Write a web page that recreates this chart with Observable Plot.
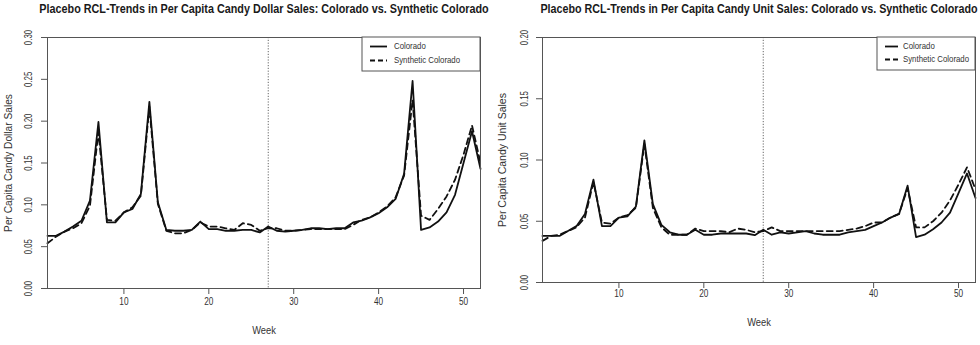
<!DOCTYPE html>
<html><head><meta charset="utf-8">
<script src="https://cdn.jsdelivr.net/npm/d3@7"></script>
<script src="https://cdn.jsdelivr.net/npm/@observablehq/plot@0.6"></script>
<style>
html,body{margin:0;padding:0;background:#fff;}
#wrap{position:relative;width:980px;height:345px;overflow:hidden;background:#fff;}
#wrap svg{position:absolute;top:0;}
</style></head><body><div id="wrap"></div>
<script>
const weeks = [1,2,3,4,5,6,7,8,9,10,11,12,13,14,15,16,17,18,19,20,21,22,23,24,25,26,
  27,28,29,30,31,32,33,34,35,36,37,38,39,40,41,42,43,44,45,46,47,48,49,50,51,52];
const xTicks = [10, 20, 30, 40, 50];
const treatmentWeek = 27;
const seriesNames = ["Colorado", "Synthetic Colorado"];
const xLabel = "Week";

const dollarTitle = "Placebo RCL-Trends in Per Capita Candy Dollar Sales: Colorado vs. Synthetic Colorado";
const dollarYLabel = "Per Capita Candy Dollar Sales";
const dollarYTicks = [0.00, 0.05, 0.10, 0.15, 0.20, 0.25, 0.30];
const dollarColorado = [0.063,0.063,0.068,0.074,0.081,0.105,0.199,0.079,0.079,0.091,0.095,0.113,0.223,0.103,
  0.070,0.069,0.069,0.070,0.080,0.071,0.071,0.069,0.069,0.070,0.070,0.067,0.074,0.069,0.068,0.069,
  0.070,0.072,0.072,0.071,0.072,0.072,0.079,0.081,0.085,0.090,0.097,0.107,0.137,0.248,0.070,0.073,
  0.080,0.091,0.112,0.150,0.188,0.143];
const dollarSynthetic = [0.054,0.062,0.068,0.072,0.078,0.099,0.187,0.082,0.081,0.091,0.097,0.111,0.217,0.101,
  0.069,0.066,0.066,0.070,0.079,0.074,0.074,0.072,0.070,0.078,0.076,0.069,0.072,0.072,0.069,0.069,
  0.070,0.071,0.071,0.071,0.071,0.071,0.076,0.082,0.085,0.091,0.098,0.109,0.135,0.225,0.087,0.082,
  0.095,0.110,0.130,0.160,0.195,0.150];

const unitTitle = "Placebo RCL-Trends in Per Capita Candy Unit Sales: Colorado vs. Synthetic Colorado";
const unitYLabel = "Per Capita Candy Unit Sales";
const unitYTicks = [0.00, 0.05, 0.10, 0.15, 0.20];
const unitColorado = [0.038,0.038,0.038,0.042,0.046,0.056,0.084,0.046,0.046,0.053,0.054,0.062,0.116,0.064,
  0.047,0.041,0.039,0.039,0.043,0.039,0.039,0.040,0.040,0.040,0.040,0.0386,0.043,0.039,0.041,0.040,
  0.041,0.042,0.040,0.039,0.039,0.039,0.041,0.042,0.043,0.046,0.049,0.053,0.056,0.079,0.037,0.039,
  0.0435,0.049,0.057,0.073,0.089,0.069];
const unitSynthetic = [0.034,0.038,0.039,0.042,0.045,0.053,0.082,0.049,0.048,0.053,0.055,0.061,0.113,0.061,
  0.045,0.039,0.039,0.039,0.044,0.042,0.042,0.042,0.041,0.044,0.043,0.041,0.042,0.045,0.042,0.042,
  0.042,0.042,0.042,0.042,0.042,0.042,0.043,0.044,0.046,0.049,0.049,0.053,0.056,0.077,0.045,0.045,
  0.050,0.057,0.067,0.080,0.094,0.076];

const FONT = "'Liberation Sans', Arial, Helvetica, sans-serif";

// compress a text element along its own writing direction, around its anchor point
function squeezeBy(el, s) {
  const x = parseFloat(el.getAttribute("x")) || 0;
  const y = parseFloat(el.getAttribute("y")) || 0;
  const T = el.getAttribute("transform") || "";
  el.setAttribute("x", 0);
  el.setAttribute("y", 0);
  el.setAttribute("transform", `${T} translate(${x},${y}) scale(${s},1)`.trim());
}
function squeezeTo(el, target) {
  const L = el.getComputedTextLength();
  if (L > 0) squeezeBy(el, target / L);
}

function panel(cfg) {
  const rows = [];
  weeks.forEach((w, i) => rows.push({week: w, value: cfg.col[i], series: seriesNames[0]}));
  weeks.forEach((w, i) => rows.push({week: w, value: cfg.syn[i], series: seriesNames[1]}));
  const yTickText = cfg.yticks.map(d => d.toFixed(2));
  const chart = Plot.plot({
    width: 490, height: 345,
    marginLeft: cfg.mL, marginRight: cfg.mR, marginTop: 37, marginBottom: cfg.mB,
    style: {fontFamily: FONT, fontSize: "11px", color: "#333", background: "#fff", overflow: "visible"},
    x: {domain: [1, 52], label: null},
    y: {domain: [0, cfg.ymax], label: null},
    marks: [
      Plot.axisX({ticks: xTicks, tickSize: 6, tickPadding: cfg.xPad, stroke: "#555", fill: "#333", label: null, fontSize: 11}),
      Plot.axisY({ticks: cfg.yticks, tickSize: 6, stroke: "#555", text: null, label: null}),
      Plot.text(cfg.yticks, {y: d => d, text: d => d.toFixed(2), frameAnchor: "left", textAnchor: "middle", lineAnchor: "middle",
        dx: cfg.yTickDx, rotate: -90, fontSize: 10.5, fill: "#333"}),
      Plot.ruleX([treatmentWeek], {stroke: "#666", strokeWidth: 1, strokeDasharray: "1.2,1.6"}),
      Plot.lineY(rows.filter(d => d.series === seriesNames[0]), {x: "week", y: "value", stroke: "#111", strokeWidth: 1.8}),
      Plot.lineY(rows.filter(d => d.series === seriesNames[1]), {x: "week", y: "value", stroke: "#111", strokeWidth: 1.8, strokeDasharray: "6,4"}),
      Plot.frame({stroke: "#555"}),
      Plot.text([cfg.title], {text: d => d, frameAnchor: "top", textAnchor: "middle", lineAnchor: "middle", dy: -25,
        fontWeight: "bold", fontSize: 13, fill: "#1a1a1a"}),
      Plot.text([cfg.ylab], {text: d => d, frameAnchor: "left", textAnchor: "middle", lineAnchor: "middle", dx: cfg.yLabDx,
        rotate: -90, fontSize: 10.3, fill: "#333"}),
      Plot.text([xLabel], {text: d => d, frameAnchor: "bottom", textAnchor: "middle", lineAnchor: "middle", dy: cfg.weekDy,
        fontSize: 11, fill: "#333"})
    ]
  });
  chart.style.left = cfg.left + "px";
  document.getElementById("wrap").appendChild(chart);

  // legend (R-style boxed legend in the top-right corner)
  const L = cfg.legend;
  const g = d3.select(chart).append("g").attr("font-family", FONT).attr("font-size", 9)
    .attr("fill", "#333").attr("text-anchor", "start");
  g.append("rect").attr("x", L.x).attr("y", 37).attr("width", L.w).attr("height", L.h)
    .attr("fill", "#fff").attr("stroke", "#555").attr("stroke-width", 1);
  seriesNames.forEach((name, i) => {
    const yy = L.y0 + i * L.dy;
    g.append("line").attr("x1", L.sx1).attr("x2", L.sx2).attr("y1", yy).attr("y2", yy)
      .attr("stroke", "#111").attr("stroke-width", 1.8).attr("stroke-dasharray", i ? "5,3" : null);
    g.append("text").attr("x", L.tx).attr("y", yy).attr("dy", "0.33em").attr("text-anchor", "start")
      .attr("class", "legtext").text(name);
  });

  // narrow text, like the reference rendering
  const xTickText = xTicks.map(String);
  chart.querySelectorAll("text").forEach(t => {
    const s = t.textContent;
    if (t.classList.contains("legtext")) squeezeBy(t, 0.87);
    else if (s === cfg.title) squeezeTo(t, cfg.titleLen);
    else if (s === cfg.ylab) squeezeTo(t, cfg.ylabLen);
    else if (s === xLabel) squeezeBy(t, 0.85);
    else if (xTickText.includes(s) || yTickText.includes(s)) squeezeBy(t, 0.75);
  });
}

panel({
  title: dollarTitle, ylab: dollarYLabel, ymax: 0.30, yticks: dollarYTicks,
  col: dollarColorado, syn: dollarSynthetic, left: 0,
  mL: 47, mR: 10, mB: 57, xPad: 10, yTickDx: -16, yLabDx: -36, weekDy: 45,
  titleLen: 450, ylabLen: 138,
  legend: {x: 362, w: 118, h: 34, y0: 46.5, dy: 14, sx1: 370, sx2: 387, tx: 394}
});
panel({
  title: unitTitle, ylab: unitYLabel, ymax: 0.20, yticks: unitYTicks,
  col: unitColorado, syn: unitSynthetic, left: 490,
  mL: 52, mR: 5, mB: 63, xPad: 8, yTickDx: -15, yLabDx: -37, weekDy: 43,
  titleLen: 438, ylabLen: 134,
  legend: {x: 387, w: 98, h: 33, y0: 46.5, dy: 13, sx1: 395, sx2: 408, tx: 413}
});
</script>
</body></html>
